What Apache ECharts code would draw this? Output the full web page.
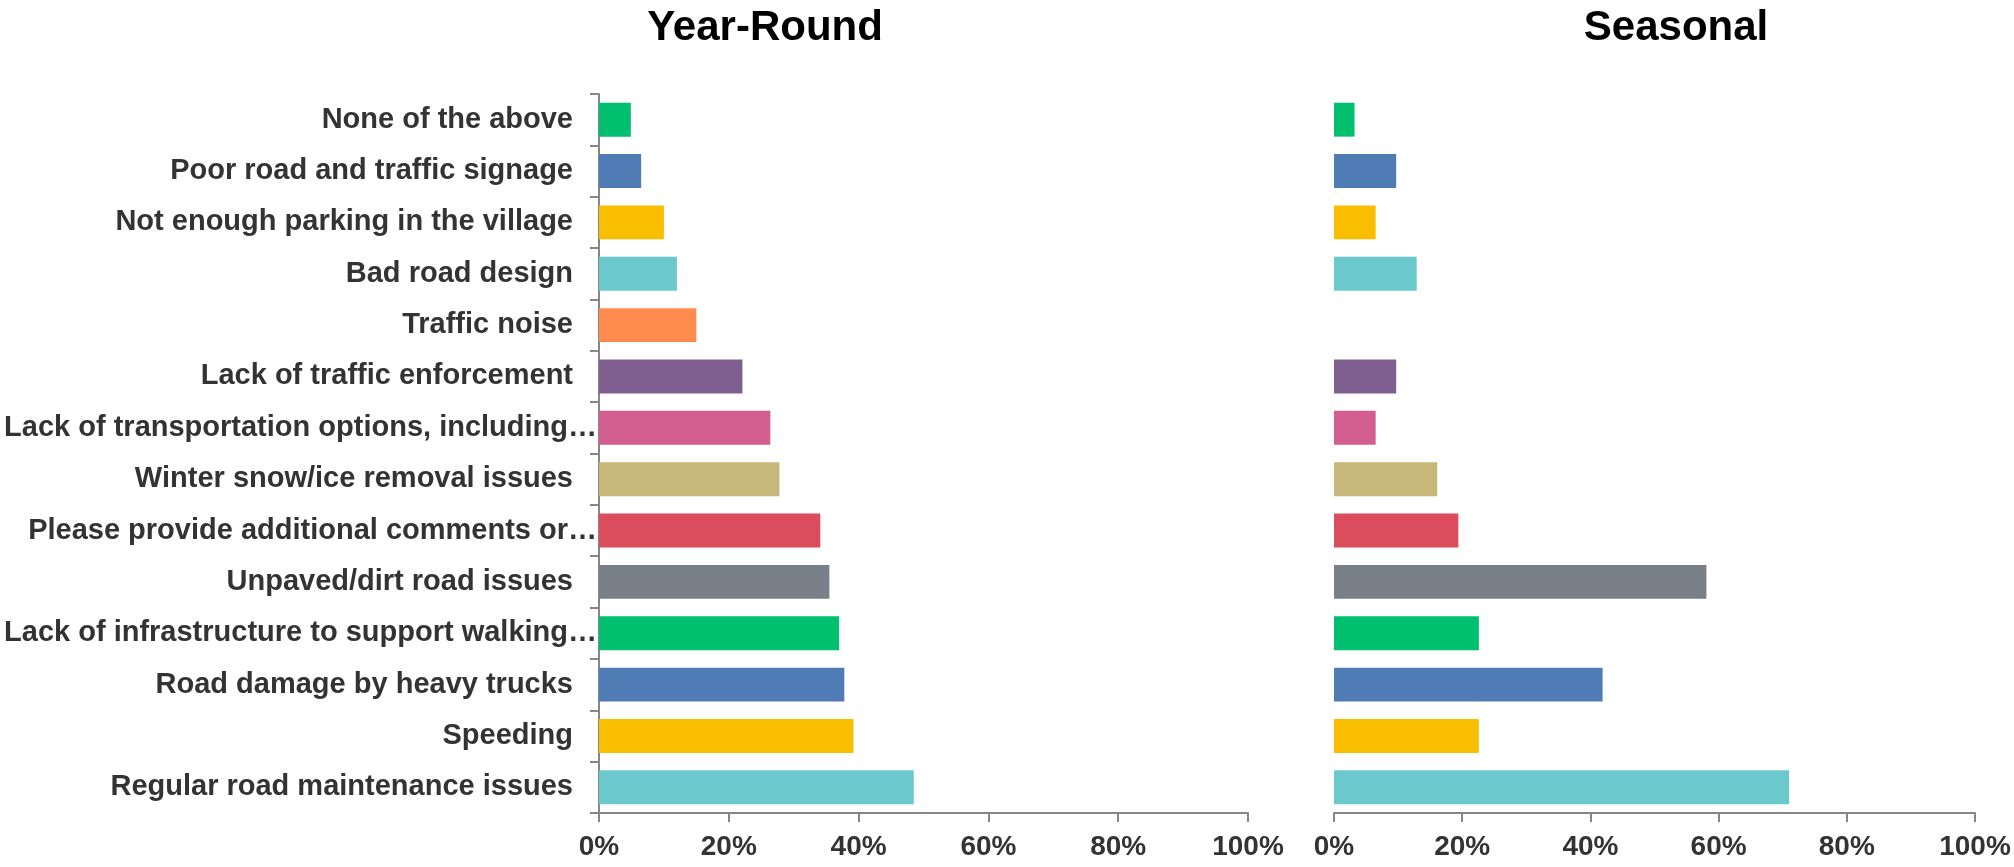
<!DOCTYPE html>
<html>
<head>
<meta charset="utf-8">
<script src="https://cdn.jsdelivr.net/npm/echarts@6/dist/echarts.min.js"></script>
<style>
  html, body { margin: 0; padding: 0; background: #fff; }
  #chart { width: 2014px; height: 867px; }
</style>
</head>
<body>
<div id="chart"></div>
<script>
// categories, bottom to top (category axis runs upward)
const categories = [
  'Regular road maintenance issues',
  'Speeding',
  'Road damage by heavy trucks',
  'Lack of infrastructure to support walking…',
  'Unpaved/dirt road issues',
  'Please provide additional comments or…',
  'Winter snow/ice removal issues',
  'Lack of transportation options, including…',
  'Lack of traffic enforcement',
  'Traffic noise',
  'Bad road design',
  'Not enough parking in the village',
  'Poor road and traffic signage',
  'None of the above'
];
// percentages
const yearRound = [48.5, 39.2, 37.8, 37.0, 35.5, 34.1, 27.8, 26.4, 22.1, 15.0, 12.0, 10.0, 6.5, 4.9];
const seasonal = [71.0, 22.6, 41.9, 22.6, 58.1, 19.4, 16.1, 6.5, 9.7, 0, 12.9, 6.5, 9.7, 3.2];
const xTicks = [0, 20, 40, 60, 80, 100];

const barColors = [
  '#6bc8cd', '#f9be00', '#507cb6', '#00bf6f', '#7a8087', '#db4d5c', '#c7b879',
  '#d25f90', '#7f5f90', '#ff8b4f', '#6bc8cd', '#f9be00', '#507cb6', '#00bf6f'
];

const FONT = '"Liberation Sans", Arial, sans-serif';
const axisColor = '#878787';

function toData(vals) {
  return vals.map((v, i) => ({ value: v, itemStyle: { color: barColors[i] } }));
}

function xAxisFor(gridIndex) {
  return {
    type: 'value',
    gridIndex: gridIndex,
    min: xTicks[0],
    max: xTicks[xTicks.length - 1],
    interval: 20,
    axisLine: { show: true, lineStyle: { color: axisColor, width: 2 } },
    axisTick: { show: true, length: 9, lineStyle: { color: axisColor, width: 2 } },
    splitLine: { show: false },
    axisLabel: {
      color: '#333',
      fontFamily: FONT,
      fontWeight: 'bold',
      fontSize: 28,
      margin: 20,
      formatter: '{value}%'
    }
  };
}

const chart = echarts.init(document.getElementById('chart'));
chart.setOption({
  animation: false,
  backgroundColor: '#fff',
  title: [
    {
      text: 'Year-Round',
      left: 760, top: 2, textAlign: 'center',
      textStyle: { fontFamily: FONT, fontWeight: 'bold', fontSize: 42, color: '#000' }
    },
    {
      text: 'Seasonal',
      left: 1671, top: 2, textAlign: 'center',
      textStyle: { fontFamily: FONT, fontWeight: 'bold', fontSize: 42, color: '#000' }
    }
  ],
  grid: [
    { left: 599, right: 766, top: 94, bottom: 54, containLabel: false, outerBoundsMode: 'none' },
    { left: 1334, right: 39, top: 94, bottom: 54, containLabel: false, outerBoundsMode: 'none' }
  ],
  xAxis: [xAxisFor(0), xAxisFor(1)],
  yAxis: [
    {
      type: 'category',
      gridIndex: 0,
      data: categories,
      axisLine: { show: true, lineStyle: { color: axisColor, width: 2 } },
      axisTick: { show: true, length: 9, lineStyle: { color: axisColor, width: 2 } },
      axisLabel: {
        margin: 2,
        formatter: function (v) {
          return v.endsWith('…') ? '{b|' + v + '}' : '{a|' + v + '}';
        },
        rich: {
          a: { fontFamily: FONT, fontWeight: 'bold', fontSize: 29, color: '#333', padding: [0, 24, 0, 0] },
          b: { fontFamily: FONT, fontWeight: 'bold', fontSize: 29, color: '#333', padding: [0, 0, 0, 0] }
        }
      }
    },
    {
      type: 'category',
      gridIndex: 1,
      data: categories,
      axisLine: { show: false },
      axisTick: { show: false },
      axisLabel: { show: false }
    }
  ],
  series: [
    {
      type: 'bar',
      xAxisIndex: 0,
      yAxisIndex: 0,
      data: toData(yearRound),
      barWidth: '66%'
    },
    {
      type: 'bar',
      xAxisIndex: 1,
      yAxisIndex: 1,
      data: toData(seasonal),
      barWidth: '66%'
    }
  ]
});
</script>
</body>
</html>
